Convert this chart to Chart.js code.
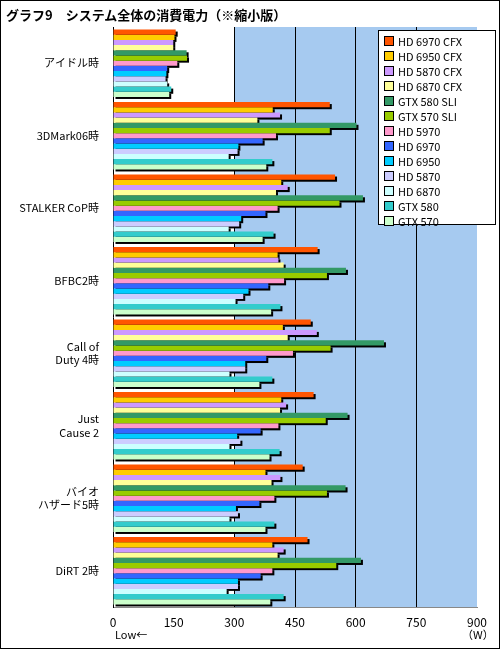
<!DOCTYPE html>
<html><head><meta charset="utf-8">
<script src="https://cdn.jsdelivr.net/npm/chart.js@4"></script>
<style>
html,body{margin:0;padding:0;background:#fff;}
#wrap{position:relative;width:500px;height:649px;}
#frame{position:absolute;left:0;top:0;width:498px;height:647px;border:1px solid #000;pointer-events:none;}
#title{position:absolute;left:6px;top:5px;font:bold 13px "Noto Sans CJK JP";color:#000;}
#legend{position:absolute;left:378px;top:30px;width:118px;height:195px;background:#fff;border:1px solid #000;box-sizing:border-box;font:11px "Noto Sans CJK JP";padding-top:2px;}
.li{height:15px;display:flex;align-items:center;padding-left:5px;}
.sw{width:8px;height:8px;border:1px solid #000;margin-right:4px;}
.ax{position:absolute;top:626px;font:11px "Noto Sans CJK JP";}
canvas{position:absolute;left:0;top:0;}
</style></head><body>
<div id="wrap">
<canvas id="c" width="500" height="649"></canvas>
<div id="title">グラフ9　システム全体の消費電力（※縮小版）</div>
<div id="legend"></div>
<div class="ax" style="left:115px">Low←</div>
<div class="ax" style="left:462px">（W）</div>
<div id="frame"></div>
</div>
<script>
const categories = ["アイドル時","3DMark06時","STALKER CoP時","BFBC2時",["Call of","Duty 4時"],["Just","Cause 2"],["バイオ","ハザード5時"],"DiRT 2時"];
const seriesNames = ["HD 6970 CFX","HD 6950 CFX","HD 5870 CFX","HD 6870 CFX","GTX 580 SLI","GTX 570 SLI","HD 5970","HD 6970","HD 6950","HD 5870","HD 6870","GTX 580","GTX 570"];
const seriesColors = ["#FF5500","#FFCC00","#CC99FF","#FFFF99","#339966","#99CC00","#FF99CC","#3366FF","#00CCFF","#CCCCFF","#CCFFFF","#33CCCC","#CCFFCC"];
const hd6970cfx = [155,536,549,506,489,496,469,481];
const hd6950cfx = [152,395,416,407,420,416,377,394];
const hd5870cfx = [149,413,432,409,504,428,414,422];
const hd6870cfx = [149,357,403,422,432,413,392,407];
const gtx580sli = [182,602,618,576,670,580,575,613];
const gtx570sli = [183,536,560,529,538,526,529,552];
const hd5970 = [159,403,407,423,445,409,399,394];
const hd6970 = [134,370,377,384,379,365,362,365];
const hd6950 = [132,310,317,335,327,307,304,309];
const hd5870 = [130,308,312,322,327,315,309,309];
const hd6870 = [134,286,286,303,288,288,288,281];
const gtx580 = [144,394,397,414,394,412,399,422];
const gtx570 = [139,379,370,391,362,387,377,389];
const xTicks = [0,150,300,450,600,750,900];

const allSeries = [hd6970cfx,hd6950cfx,hd5870cfx,hd6870cfx,gtx580sli,gtx570sli,hd5970,hd6970,hd6950,hd5870,hd6870,gtx580,gtx570];
const lg = document.getElementById('legend');
seriesNames.forEach((n,i)=>{lg.insertAdjacentHTML('beforeend',`<div class="li"><div class="sw" style="background:${seriesColors[i]}"></div>${n}</div>`);});

const bgPlugin = {id:'bg', beforeDraw(chart){
  const {ctx, chartArea:a, scales:{x}} = chart;
  const p = x.getPixelForValue(300);
  ctx.save(); ctx.fillStyle='#A6CAF0'; ctx.fillRect(p,a.top,a.right-p,a.bottom-a.top); ctx.restore();
}, beforeDatasetsDraw(chart){
  const ctx = chart.ctx; ctx.save(); ctx.fillStyle='#000';
  chart.data.datasets.forEach((d,i)=>{ chart.getDatasetMeta(i).data.forEach(b=>{
    const h=b.height; ctx.fillRect(b.base+2, b.y-h/2+2, b.x-b.base, h);
  });});
  ctx.restore();
}};

new Chart(document.getElementById('c'), {
  type:'bar',
  data:{labels:categories, datasets: allSeries.map((s,i)=>({label:seriesNames[i], data:s, backgroundColor:seriesColors[i], borderWidth:0, categoryPercentage:0.93, barPercentage:1}))},
  options:{
    indexAxis:'y', responsive:false, animation:false,
    layout:{padding:{top:27,right:23,left:0,bottom:0}},
    plugins:{legend:{display:false}, tooltip:{enabled:false}},
    scales:{
      x:{min:0,max:900, afterBuildTicks(s){s.ticks=xTicks.map(v=>({value:v}));},
        afterFit(s){s.height=42;},
        grid:{color:c=>(c.tick&&c.tick.value>=300&&c.tick.value<=750)?'#000':'rgba(0,0,0,0)', drawTicks:false},
        border:{color:'#888'},
        ticks:{color:'#000', padding:8, font:{family:'Noto Sans CJK JP',size:12}}},
      y:{afterFit(s){s.width=113;}, grid:{display:false}, border:{color:'#000'},
        ticks:{color:'#000', padding:6, font:{family:'Noto Sans CJK JP',size:11}}}
    }
  },
  plugins:[bgPlugin]
});
</script></body></html>
